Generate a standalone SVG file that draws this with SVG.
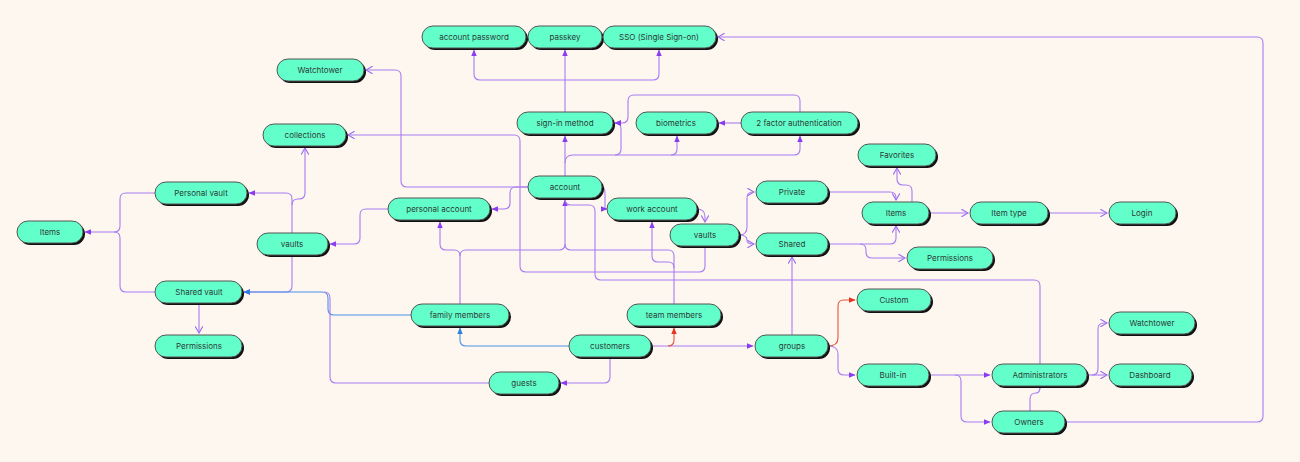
<svg xmlns="http://www.w3.org/2000/svg" width="1300" height="462" viewBox="0 0 1300 462">
<defs>
<marker id="a" viewBox="0 0 6 6" refX="5.5" refY="3" markerWidth="6" markerHeight="6" orient="auto"><path d="M0,0.5 L6,3 L0,5.5 Z" fill="#8b3cf0"/></marker>
<marker id="o" viewBox="0 0 8 8" refX="7" refY="4" markerWidth="8" markerHeight="8" orient="auto"><path d="M1,0.5 L7,4 L1,7.5" fill="none" stroke="#9d6cf0" stroke-width="1"/></marker>
<marker id="r" viewBox="0 0 6 6" refX="5.5" refY="3" markerWidth="6" markerHeight="6" orient="auto"><path d="M0,0.5 L6,3 L0,5.5 Z" fill="#e8321e"/></marker>
<marker id="b" viewBox="0 0 6 6" refX="5.5" refY="3" markerWidth="6" markerHeight="6" orient="auto"><path d="M0,0.5 L6,3 L0,5.5 Z" fill="#2f7fe0"/></marker>
</defs>
<style>
.n rect.s{fill:#111}
.n rect.f{fill:#63ffcb;stroke:#555;stroke-width:1}
.n text{font-family:Inter,"Liberation Sans",sans-serif;font-size:8px;fill:#2b3a36;text-anchor:middle;dominant-baseline:central}
#edges path{fill:none;stroke:#a97cf2;stroke-width:1.1}
#edges path.r{stroke:#e8523e}
#edges path.b{stroke:#4a94e6}
</style>
<rect width="1300" height="462" fill="#fdf7f0"/>
<g id="edges">
<path d="M565,112 V50" marker-end="url(#a)"/>
<path d="M565,80 H480 q-6,0 -6,-6 V50" marker-end="url(#a)"/>
<path d="M565,80 H653 q6,0 6,-6 V50" marker-end="url(#a)"/>
<path d="M565,176 V136" marker-end="url(#a)"/>
<path d="M565,163 q0,-8 8,-8 H615 q6,0 6,-6 V129 q0,-6 -6,-6" marker-end="url(#a)"/>
<path d="M615,155 H671 q6,0 6,-6 V136" marker-end="url(#a)"/>
<path d="M671,155 H794 q6,0 6,-6 V136" marker-end="url(#a)"/>
<path d="M741,123 H719" marker-end="url(#a)"/>
<path d="M800,112 V101 q0,-6 -6,-6 H634 q-6,0 -6,6 V117 q0,6 -6,6 H615" marker-end="url(#a)"/>
<path d="M528,187 H407 q-6,0 -6,-6 V76 q0,-6 -6,-6 H366" marker-end="url(#o)"/>
<path d="M528,187 H516 q-6,0 -6,6 V203 q0,6 -6,6 H492" marker-end="url(#a)"/>
<path d="M602,187 q3,0 3,6 V209 H607" marker-end="url(#a)"/>
<path d="M388,209 H366 q-6,0 -6,6 V238 q0,6 -6,6 H330" marker-end="url(#a)"/>
<path d="M292,233 V199 q0,-6 -6,-6 H249" marker-end="url(#a)"/>
<path d="M292,205 q0,-6 6,-6 H299 q6,0 6,-6 V148" marker-end="url(#o)"/>
<path d="M292,255 V286 q0,6 -6,6 H244" marker-end="url(#a)"/>
<path d="M155,193 H126 q-6,0 -6,6 V226 q0,6 -6,6 H85" marker-end="url(#a)"/>
<path d="M155,292 H126 q-6,0 -6,-6 V238 q0,-6 -6,-6"/>
<path d="M199,303 V333" marker-end="url(#o)"/>
<path class="b" d="M411,315 H334 q-6,0 -6,-6 V298 q0,-6 -6,-6 H244" marker-end="url(#b)"/>
<path d="M489,383 H336 q-6,0 -6,-6 V298 q0,-6 -6,-6"/>
<path d="M460,304 V256 q0,-6 -6,-6 H446 q-6,0 -6,-6 V222" marker-end="url(#a)"/>
<path d="M460,256 q0,-6 6,-6 H559 q6,0 6,-6 V200" marker-end="url(#a)"/>
<path d="M565,244 q0,6 6,6 H668 q6,0 6,6 V304"/>
<path d="M674,268 q0,-6 -6,-6 H658 q-6,0 -6,-6 V222" marker-end="url(#a)"/>
<path d="M705,246 V266 q0,6 -6,6 H526 q-6,0 -6,-6 V141 q0,-6 -6,-6 H348" marker-end="url(#o)"/>
<path d="M1040,364 V286 q0,-6 -6,-6 H601 q-6,0 -6,-6 V211 q0,-6 -6,-6 H571 q-6,0 -6,-6"/>
<path d="M697,209 q8,0 8,8 V222" marker-end="url(#o)"/>
<path d="M739,235 q8,0 8,-8 V198 q0,-6 6,-6 H754" marker-end="url(#o)"/>
<path d="M739,235 q8,0 8,5 q0,4 6,4 H754" marker-end="url(#o)"/>
<path d="M828,192 H890 q6,0 6,6 V200" marker-end="url(#o)"/>
<path d="M828,244 H890 q6,0 6,-6 V226" marker-end="url(#o)"/>
<path d="M860,244 q6,0 6,6 V252 q0,6 6,6 H905" marker-end="url(#o)"/>
<path d="M912,202 V191 q0,-6 -6,-6 H903 q-6,0 -6,-6 V168" marker-end="url(#o)"/>
<path d="M929,213 H968" marker-end="url(#o)"/>
<path d="M1048,213 H1107" marker-end="url(#o)"/>
<path d="M792,335 V257" marker-end="url(#o)"/>
<path d="M651,346 H753" marker-end="url(#a)"/>
<path class="r" d="M668,346 q6,0 6,-6 V328" marker-end="url(#r)"/>
<path class="b" d="M569,346 H466 q-6,0 -6,-6 V328" marker-end="url(#b)"/>
<path d="M610,357 V377 q0,6 -6,6 H561" marker-end="url(#a)"/>
<path class="r" d="M828,346 q10,0 10,-8 V306 q0,-6 6,-6 H855" marker-end="url(#r)"/>
<path d="M828,346 q10,0 10,8 V369 q0,6 6,6 H855" marker-end="url(#a)"/>
<path d="M929,375 H990" marker-end="url(#a)"/>
<path d="M955,375 q6,0 6,6 V416 q0,6 6,6 H990" marker-end="url(#a)"/>
<path d="M1030,411 V399 q0,-6 6,-6 q4,0 4,-6 V388" marker-end="url(#o)"/>
<path d="M1087,375 H1107" marker-end="url(#o)"/>
<path d="M1092,375 q6,0 6,-6 V329 q0,-6 6,-6 H1107" marker-end="url(#o)"/>
<path d="M1065,422 H1257 q6,0 6,-6 V43 q0,-6 -6,-6 H718" marker-end="url(#o)"/>
</g>
<g class="n" id="n-accpw"><rect class="s" x="424" y="28" width="104" height="22" rx="11"/><rect class="f" x="422" y="26" width="104" height="22" rx="11"/><text x="474" y="37">account password</text></g>
<g class="n" id="n-passkey"><rect class="s" x="530" y="28" width="74" height="22" rx="11"/><rect class="f" x="528" y="26" width="74" height="22" rx="11"/><text x="565" y="37">passkey</text></g>
<g class="n" id="n-sso"><rect class="s" x="605" y="28" width="113" height="22" rx="11"/><rect class="f" x="603" y="26" width="113" height="22" rx="11"/><text x="659" y="37">SSO (Single Sign-on)</text></g>
<g class="n" id="n-wt1"><rect class="s" x="279" y="61" width="87" height="22" rx="11"/><rect class="f" x="277" y="59" width="87" height="22" rx="11"/><text x="320" y="70">Watchtower</text></g>
<g class="n" id="n-signin"><rect class="s" x="519" y="114" width="96" height="22" rx="11"/><rect class="f" x="517" y="112" width="96" height="22" rx="11"/><text x="565" y="123">sign-in method</text></g>
<g class="n" id="n-bio"><rect class="s" x="638" y="114" width="81" height="22" rx="11"/><rect class="f" x="636" y="112" width="81" height="22" rx="11"/><text x="676" y="123">biometrics</text></g>
<g class="n" id="n-2fa"><rect class="s" x="743" y="114" width="117" height="22" rx="11"/><rect class="f" x="741" y="112" width="117" height="22" rx="11"/><text x="799" y="123">2 factor authentication</text></g>
<g class="n" id="n-coll"><rect class="s" x="265" y="126" width="83" height="22" rx="11"/><rect class="f" x="263" y="124" width="83" height="22" rx="11"/><text x="305" y="135">collections</text></g>
<g class="n" id="n-fav"><rect class="s" x="860" y="146" width="78" height="22" rx="11"/><rect class="f" x="858" y="144" width="78" height="22" rx="11"/><text x="897" y="155">Favorites</text></g>
<g class="n" id="n-account"><rect class="s" x="530" y="178" width="74" height="22" rx="11"/><rect class="f" x="528" y="176" width="74" height="22" rx="11"/><text x="565" y="187">account</text></g>
<g class="n" id="n-pvault"><rect class="s" x="157" y="184" width="92" height="22" rx="11"/><rect class="f" x="155" y="182" width="92" height="22" rx="11"/><text x="201" y="193">Personal vault</text></g>
<g class="n" id="n-private"><rect class="s" x="758" y="183" width="72" height="22" rx="11"/><rect class="f" x="756" y="181" width="72" height="22" rx="11"/><text x="792" y="192">Private</text></g>
<g class="n" id="n-pacc"><rect class="s" x="390" y="200" width="102" height="22" rx="11"/><rect class="f" x="388" y="198" width="102" height="22" rx="11"/><text x="439" y="209">personal account</text></g>
<g class="n" id="n-wacc"><rect class="s" x="609" y="200" width="90" height="22" rx="11"/><rect class="f" x="607" y="198" width="90" height="22" rx="11"/><text x="652" y="209">work account</text></g>
<g class="n" id="n-items2"><rect class="s" x="864" y="204" width="67" height="22" rx="11"/><rect class="f" x="862" y="202" width="67" height="22" rx="11"/><text x="896" y="213">Items</text></g>
<g class="n" id="n-itype"><rect class="s" x="972" y="204" width="78" height="22" rx="11"/><rect class="f" x="970" y="202" width="78" height="22" rx="11"/><text x="1009" y="213">Item type</text></g>
<g class="n" id="n-login"><rect class="s" x="1111" y="204" width="67" height="22" rx="11"/><rect class="f" x="1109" y="202" width="67" height="22" rx="11"/><text x="1142" y="213">Login</text></g>
<g class="n" id="n-items1"><rect class="s" x="19" y="223" width="66" height="22" rx="11"/><rect class="f" x="17" y="221" width="66" height="22" rx="11"/><text x="50" y="232">Items</text></g>
<g class="n" id="n-vaults1"><rect class="s" x="259" y="235" width="71" height="22" rx="11"/><rect class="f" x="257" y="233" width="71" height="22" rx="11"/><text x="292" y="244">vaults</text></g>
<g class="n" id="n-vaults2"><rect class="s" x="672" y="226" width="69" height="22" rx="11"/><rect class="f" x="670" y="224" width="69" height="22" rx="11"/><text x="705" y="235">vaults</text></g>
<g class="n" id="n-shared"><rect class="s" x="758" y="235" width="72" height="22" rx="11"/><rect class="f" x="756" y="233" width="72" height="22" rx="11"/><text x="792" y="244">Shared</text></g>
<g class="n" id="n-perm2"><rect class="s" x="909" y="249" width="86" height="22" rx="11"/><rect class="f" x="907" y="247" width="86" height="22" rx="11"/><text x="950" y="258">Permissions</text></g>
<g class="n" id="n-svault"><rect class="s" x="157" y="283" width="87" height="22" rx="11"/><rect class="f" x="155" y="281" width="87" height="22" rx="11"/><text x="199" y="292">Shared vault</text></g>
<g class="n" id="n-custom"><rect class="s" x="859" y="291" width="74" height="22" rx="11"/><rect class="f" x="857" y="289" width="74" height="22" rx="11"/><text x="894" y="300">Custom</text></g>
<g class="n" id="n-family"><rect class="s" x="413" y="306" width="98" height="22" rx="11"/><rect class="f" x="411" y="304" width="98" height="22" rx="11"/><text x="460" y="315">family members</text></g>
<g class="n" id="n-team"><rect class="s" x="629" y="306" width="94" height="22" rx="11"/><rect class="f" x="627" y="304" width="94" height="22" rx="11"/><text x="674" y="315">team members</text></g>
<g class="n" id="n-wt2"><rect class="s" x="1111" y="314" width="86" height="22" rx="11"/><rect class="f" x="1109" y="312" width="86" height="22" rx="11"/><text x="1152" y="323">Watchtower</text></g>
<g class="n" id="n-perm1"><rect class="s" x="157" y="337" width="87" height="22" rx="11"/><rect class="f" x="155" y="335" width="87" height="22" rx="11"/><text x="199" y="346">Permissions</text></g>
<g class="n" id="n-cust"><rect class="s" x="571" y="337" width="82" height="22" rx="11"/><rect class="f" x="569" y="335" width="82" height="22" rx="11"/><text x="610" y="346">customers</text></g>
<g class="n" id="n-groups"><rect class="s" x="757" y="337" width="73" height="22" rx="11"/><rect class="f" x="755" y="335" width="73" height="22" rx="11"/><text x="792" y="346">groups</text></g>
<g class="n" id="n-builtin"><rect class="s" x="859" y="366" width="72" height="22" rx="11"/><rect class="f" x="857" y="364" width="72" height="22" rx="11"/><text x="893" y="375">Built-in</text></g>
<g class="n" id="n-admin"><rect class="s" x="994" y="366" width="95" height="22" rx="11"/><rect class="f" x="992" y="364" width="95" height="22" rx="11"/><text x="1040" y="375">Administrators</text></g>
<g class="n" id="n-dash"><rect class="s" x="1111" y="366" width="83" height="22" rx="11"/><rect class="f" x="1109" y="364" width="83" height="22" rx="11"/><text x="1150" y="375">Dashboard</text></g>
<g class="n" id="n-guests"><rect class="s" x="491" y="374" width="70" height="22" rx="11"/><rect class="f" x="489" y="372" width="70" height="22" rx="11"/><text x="524" y="383">guests</text></g>
<g class="n" id="n-owners"><rect class="s" x="994" y="413" width="73" height="22" rx="11"/><rect class="f" x="992" y="411" width="73" height="22" rx="11"/><text x="1029" y="422">Owners</text></g>
</svg>
